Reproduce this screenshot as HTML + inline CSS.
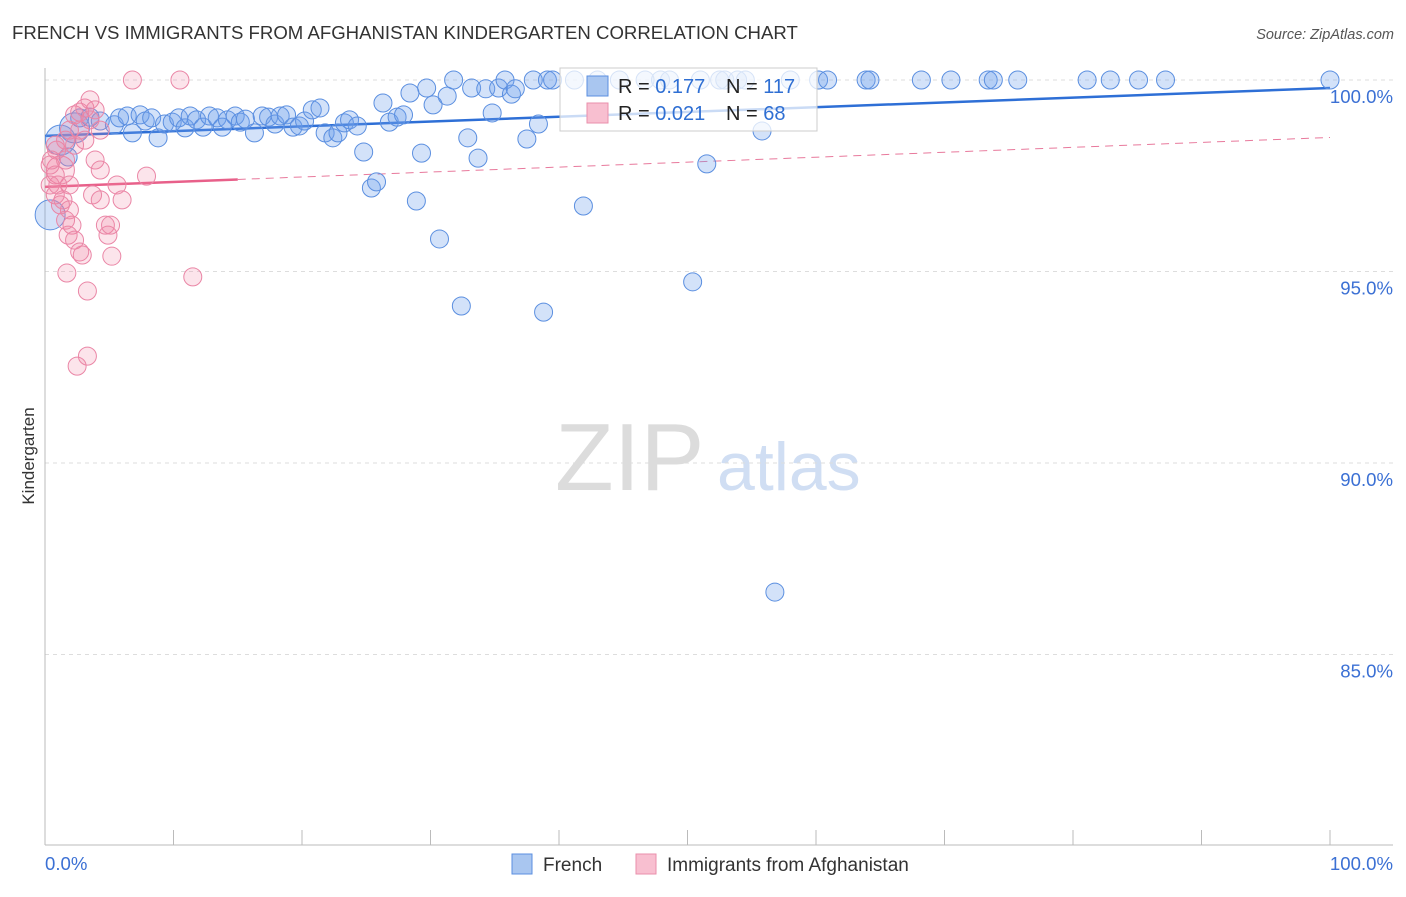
<!DOCTYPE html>
<html><head><meta charset="utf-8"><style>
body{margin:0;background:#fff;font-family:"Liberation Sans",sans-serif;}
svg text{font-family:"Liberation Sans",sans-serif;}
</style></head><body>
<svg id="chart" width="1406" height="892" viewBox="0 0 1406 892">
<text x="12" y="39" font-size="18.6" fill="#333">FRENCH VS IMMIGRANTS FROM AFGHANISTAN KINDERGARTEN CORRELATION CHART</text>
<text x="1394" y="39" font-size="14.5" fill="#555" font-style="italic" text-anchor="end">Source: ZipAtlas.com</text>
<text x="555" y="490" font-size="96" fill="#dcdcdc" font-family="Liberation Serif">ZIP</text>
<text x="717" y="490" font-size="68" fill="#d0def3">atlas</text>
<text transform="translate(34,456) rotate(-90)" font-size="17" fill="#333" text-anchor="middle">Kindergarten</text>
<g id="grid"></g><g id="axes"></g><g id="trend"></g><g id="pts"></g>
<g>
<rect x="560" y="68" width="257" height="63" fill="#fff" fill-opacity="0.75" stroke="#ccc"/>
<rect x="587" y="76" width="21" height="20" fill="#a9c6f0" stroke="#5b8fe0"/>
<rect x="587" y="103" width="21" height="20" fill="#f8bfd0" stroke="#ea8fab"/>
<text x="618" y="93" font-size="20" fill="#222">R = <tspan fill="#2f6fd3">0.177</tspan></text>
<text x="726" y="93" font-size="20" fill="#222">N = <tspan fill="#2f6fd3">117</tspan></text>
<text x="618" y="120" font-size="20" fill="#222">R = <tspan fill="#2f6fd3">0.021</tspan></text>
<text x="726" y="120" font-size="20" fill="#222">N = <tspan fill="#2f6fd3"> 68</tspan></text>
</g>
<g>
<rect x="512" y="854" width="20" height="20" fill="#a9c6f0" stroke="#5b8fe0"/>
<text x="543" y="871" font-size="19" fill="#333">French</text>
<rect x="636" y="854" width="20" height="20" fill="#f8bfd0" stroke="#ea8fab"/>
<text x="667" y="871" font-size="19" fill="#333">Immigrants from Afghanistan</text>
</g>
</svg>
<script>
const frenchX=[0.4,1.2,2.3,1.8,2.7,3.5,4.3,5.4,5.8,6.4,6.8,7.4,7.8,8.3,8.8,9.3,9.9,10.4,10.9,11.3,11.8,12.3,12.8,13.4,13.8,14.2,14.8,15.2,15.6,16.3,16.9,17.4,17.9,18.3,18.8,19.3,19.8,20.2,20.8,21.4,21.8,22.4,22.8,23.3,23.7,24.3,24.8,25.4,25.8,26.3,26.8,27.4,27.9,28.4,28.9,29.3,29.7,30.2,30.7,31.3,31.8,32.4,32.9,33.2,33.7,34.3,34.8,35.3,35.8,36.3,36.6,37.5,38.0,38.4,38.8,39.1,39.5,41.2,41.9,43.0,44.7,46.7,47.9,48.6,50.4,51.0,51.5,52.5,52.9,53.9,54.5,55.8,56.8,58.0,60.2,60.9,63.9,64.2,68.2,70.5,73.4,73.8,75.7,81.1,82.9,85.1,87.2,100];
const frenchY=[96.48,98.43,98.75,97.99,99.01,99.03,98.93,98.83,99.01,99.06,98.62,99.09,98.93,99.01,98.49,98.85,98.9,99.01,98.75,99.06,98.96,98.77,99.06,99.01,98.77,98.96,99.06,98.9,98.98,98.62,99.06,99.03,98.85,99.06,99.09,98.77,98.8,98.93,99.22,99.27,98.62,98.49,98.62,98.88,98.96,98.8,98.12,97.18,97.34,99.4,98.9,99.03,99.09,99.66,96.84,98.09,99.79,99.35,95.85,99.58,100,94.1,98.49,99.79,97.96,99.77,99.14,99.79,100,99.63,99.77,98.46,100,98.85,93.94,100,100,100,96.71,100,100,100,100,100,94.73,100,97.81,100,100,100,100,98.67,86.63,100,100,100,100,100,100,100,100,100,100,100,100,100,100,100];
const afgX=[1.2,0.4,0.8,0.4,0.9,1.6,1.9,2.3,2.7,3.1,3.5,3.9,2.7,3.1,2.3,1.6,1.9,1.4,1.9,1.6,2.1,1.8,2.3,2.7,2.9,1.2,0.8,3.9,4.3,3.7,4.3,4.7,4.9,5.1,5.2,5.6,6.0,7.9,6.8,10.5,11.5,3.3,3.3,2.5,1.7,1.0,0.5,0.8,4.3,3.5];
const afgY=[97.65,97.78,97.52,97.26,98.17,98.43,98.69,99.09,99.16,99.27,99.48,99.22,98.69,98.43,98.3,97.91,97.26,96.87,96.61,96.34,96.21,95.95,95.82,95.51,95.43,96.74,97.0,97.91,97.65,97.0,96.87,96.21,95.95,96.21,95.4,97.26,96.87,97.49,100,100,94.86,94.49,92.79,92.53,94.96,97.26,97.91,98.3,98.69,98.96];
const bigFrench=[0,1,2];const bigAfg=[0];
const yTicks=[100,95,90,85];const yTickLabels=["100.0%","95.0%","90.0%","85.0%"];
const xTicks=[0,10,20,30,40,50,60,70,80,90,100];
const frenchTrend=[98.54,99.79];const afgTrend=[97.21,98.5];const afgSolidEnd=15;
const X0=45,X1=1330,Y100=80,PXPCT=38.3;
const sx=v=>X0+v/100*(X1-X0);
const sy=v=>Y100+(100-v)*PXPCT;
const NS="http://www.w3.org/2000/svg";
function mk(tag,attrs,parent){const e=document.createElementNS(NS,tag);for(const k in attrs)e.setAttribute(k,attrs[k]);document.getElementById(parent).appendChild(e);return e;}
yTicks.forEach((t,i)=>{
 const l=mk('line',{x1:45,x2:1393,y1:sy(t),y2:sy(t),stroke:'#ddd','stroke-dasharray':'4,4'},'grid');
 
 
 const tx=mk('text',{x:1393,y:sy(t)+23,'font-size':18.6,fill:'#3b70d4','text-anchor':'end'},'axes');
 tx.textContent=yTickLabels[i];
 
 
});
let a=mk('line',{x1:45,x2:45,y1:68,y2:845,stroke:'#bbb'},'axes');


a=mk('line',{x1:45,x2:1393,y1:845,y2:845,stroke:'#bbb'},'axes');


xTicks.forEach(t=>{const l=mk('line',{x1:sx(t),x2:sx(t),y1:830,y2:845,stroke:'#bbb'},'axes');
 
 });
let t0=mk('text',{x:45,y:870,'font-size':18.6,fill:'#3b70d4'},'axes');t0.textContent='0.0%';


t0=mk('text',{x:1393,y:870,'font-size':18.6,fill:'#3b70d4','text-anchor':'end'},'axes');t0.textContent='100.0%';


frenchX.forEach((x,i)=>{const c=mk('circle',{cx:sx(x),cy:sy(frenchY[i]),r:bigFrench.includes(i)?15:9,fill:'rgba(110,160,235,0.3)',stroke:'#5b8fe0','stroke-width':1},'pts');
 
 });
afgX.forEach((x,i)=>{const c=mk('circle',{cx:sx(x),cy:sy(afgY[i]),r:bigAfg.includes(i)?14:9,fill:'rgba(240,130,165,0.22)',stroke:'#ea86a6','stroke-width':1},'pts');
 
 });
const ay=v=>afgTrend[0]+(afgTrend[1]-afgTrend[0])*v/100;
let tl=mk('line',{x1:sx(0),y1:sy(frenchTrend[0]),x2:sx(100),y2:sy(frenchTrend[1]),stroke:'#2e6fd6','stroke-width':2.5},'trend');


tl=mk('line',{x1:sx(0),y1:sy(ay(0)),x2:sx(afgSolidEnd),y2:sy(ay(afgSolidEnd)),stroke:'#e8608a','stroke-width':2.5},'trend');


tl=mk('line',{x1:sx(afgSolidEnd),y1:sy(ay(afgSolidEnd)),x2:sx(100),y2:sy(ay(100)),stroke:'#e8799c','stroke-width':1,'stroke-dasharray':'8,6'},'trend');


</script>
</body></html>
